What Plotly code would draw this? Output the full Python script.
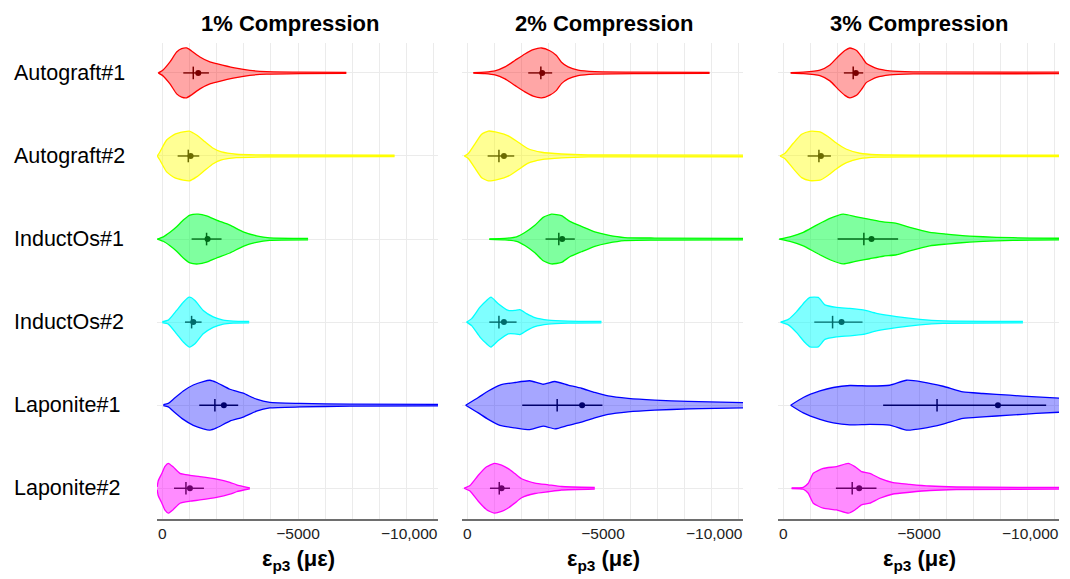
import plotly.graph_objects as go

W, H = 1070, 579
categories = ["Autograft#1", "Autograft#2", "InductOs#1", "InductOs#2", "Laponite#1", "Laponite#2"]
panel_titles = ["1% Compression", "2% Compression", "3% Compression"]
x_tickvals = [0, -5000]
x_ticktext = ["0", "\u22125000"]
x_end_value = -10000
x_end_text = "\u221210,000"

line_colors = ["#FF0000", "#FFFF00", "#00FF00", "#00FFFF", "#0000FF", "#FF00FF"]
fill_colors = ["rgba(255,0,0,0.35)", "rgba(255,255,0,0.42)", "rgba(0,255,64,0.5)",
               "rgba(0,255,255,0.5)", "rgba(0,0,255,0.35)", "rgba(255,0,255,0.45)"]
stat_colors = ["#7a0000", "#6b6b00", "#006b1a", "#006b6b", "#00006b", "#6b006b"]

# violin density profiles: strain (µε) and relative half-width (0..1)
strain_1pct = [
    [147, -37, -282, -527, -711, -895, -1078, -1385, -1752, -1998, -2610, -3223, -3836, -5061, -6777],
    [184, 86, -159, -466, -772, -993, -1262, -1569, -1875, -2181, -2733, -3836, -8554],
    [184, -37, -282, -527, -772, -1017, -1324, -1630, -1998, -2488, -2978, -3468, -3958, -5368],
    [0, -221, -527, -772, -993, -1201, -1507, -1875, -2243, -2610, -3199],
    [-37, -221, -404, -772, -1140, -1507, -1752, -1998, -2488, -2978, -3468, -3958, -5061, -6900, -10400],
    [190, 150, 25, -98, -221, -404, -650, -1017, -1385, -1998, -2488, -2733, -3223],
]
width_1pct = [
    [0, 0.13, 0.44, 0.84, 0.97, 1.0, 0.88, 0.64, 0.44, 0.37, 0.21, 0.10, 0.05, 0.03, 0.02],
    [0, 0.17, 0.64, 0.88, 0.97, 1.0, 0.84, 0.57, 0.31, 0.16, 0.07, 0.04, 0.03],
    [0, 0.09, 0.27, 0.49, 0.76, 0.96, 1.0, 0.93, 0.76, 0.56, 0.29, 0.13, 0.05, 0.03],
    [0.02, 0.08, 0.47, 0.80, 1.0, 0.87, 0.47, 0.21, 0.08, 0.04, 0.03],
    [0.02, 0.07, 0.24, 0.57, 0.81, 0.95, 1.0, 0.91, 0.64, 0.48, 0.24, 0.11, 0.07, 0.04, 0.03],
    [0.05, 0.3, 0.58, 0.88, 1.0, 0.85, 0.6, 0.52, 0.47, 0.37, 0.24, 0.14, 0.02],
]
strain_2pct = [
    [-221, -650, -1017, -1385, -1752, -2120, -2426, -2733, -3039, -3284, -3468, -3713, -4081, -4694, -6287, -8922],
    [110, -37, -282, -527, -772, -1140, -1507, -1875, -2243, -2733, -3468, -4449, -10400],
    [-809, -1385, -1814, -2120, -2488, -2794, -3100, -3468, -3775, -4203, -4694, -5184, -5797, -6900, -10400],
    [25, -159, -466, -711, -870, -1140, -1507, -1752, -1936, -2181, -2488, -2978, -3713, -4939],
    [61, -404, -772, -1201, -1752, -2304, -2794, -3223, -3713, -4203, -4694, -5184, -5919, -6900, -8125, -10400],
    [123, -98, -404, -711, -993, -1262, -1507, -1752, -1998, -2488, -2978, -3468, -4694],
]
width_2pct = [
    [0.01, 0.03, 0.08, 0.24, 0.5, 0.76, 0.93, 1.0, 0.89, 0.7, 0.43, 0.24, 0.11, 0.05, 0.03, 0.02],
    [0, 0.1, 0.49, 0.87, 1.0, 0.94, 0.81, 0.55, 0.29, 0.15, 0.08, 0.04, 0.03],
    [0.01, 0.03, 0.09, 0.26, 0.55, 0.87, 1.0, 0.94, 0.71, 0.51, 0.29, 0.16, 0.06, 0.04, 0.03],
    [0, 0.14, 0.6, 0.87, 1.0, 0.74, 0.47, 0.47, 0.5, 0.34, 0.18, 0.08, 0.04, 0.03],
    [0, 0.31, 0.57, 0.81, 0.91, 0.98, 0.84, 0.95, 0.81, 0.68, 0.51, 0.37, 0.27, 0.2, 0.15, 0.1],
    [0, 0.11, 0.52, 0.86, 1.0, 0.93, 0.79, 0.59, 0.38, 0.21, 0.14, 0.07, 0.03],
]
strain_3pct = [
    [-270, -735, -1348, -1716, -2022, -2267, -2451, -2696, -2880, -3064, -3431, -3922, -4779, -10400],
    [123, -61, -368, -674, -980, -1348, -1654, -1961, -2328, -2819, -3431, -10400],
    [147, -245, -735, -1225, -1716, -2206, -2696, -3186, -3676, -4167, -4657, -5392, -6005, -6863, -7843, -9069, -10400],
    [98, -184, -490, -797, -980, -1287, -1532, -1961, -2451, -2941, -3431, -4167, -5025, -5882, -8824],
    [-270, -735, -1348, -1838, -2451, -3186, -3922, -4534, -5147, -5882, -6618, -7353, -8333, -9314, -10400],
    [-306, -735, -919, -1103, -1471, -1961, -2390, -2635, -2880, -3186, -3554, -4044, -4657, -5392, -6373, -10400],
]
width_3pct = [
    [0.01, 0.03, 0.11, 0.32, 0.66, 0.9, 1.0, 0.9, 0.66, 0.38, 0.18, 0.08, 0.04, 0.03],
    [0, 0.11, 0.51, 0.87, 0.99, 0.97, 0.77, 0.51, 0.27, 0.11, 0.05, 0.03],
    [0, 0.09, 0.27, 0.56, 0.83, 1.0, 0.89, 0.79, 0.69, 0.63, 0.47, 0.27, 0.2, 0.12, 0.07, 0.04, 0.03],
    [0, 0.11, 0.42, 0.82, 0.99, 0.99, 0.69, 0.59, 0.55, 0.49, 0.35, 0.22, 0.11, 0.05, 0.03],
    [0, 0.31, 0.57, 0.71, 0.79, 0.77, 0.8, 1.0, 0.93, 0.76, 0.53, 0.47, 0.4, 0.33, 0.27],
    [0.01, 0.04, 0.2, 0.6, 0.8, 0.87, 1.0, 0.87, 0.67, 0.6, 0.4, 0.23, 0.16, 0.09, 0.05, 0.03],
]

# summary statistics (µε): first quartile, median, mean, third quartile
q1_1pct = [-772, -564, -1078, -833, -1360, -429]
median_1pct = [-1140, -956, -1630, -1078, -1936, -870]
mean_1pct = [-1324, -1042, -1667, -1140, -2267, -1017]
q3_1pct = [-1716, -1360, -2181, -1446, -2794, -1532]

q1_2pct = [-2243, -748, -2880, -809, -2022, -833]
median_2pct = [-2708, -1164, -3370, -1164, -3309, -1176]
mean_2pct = [-2757, -1348, -3493, -1348, -4228, -1262]
q3_2pct = [-3125, -1728, -3958, -1814, -4975, -1569]

q1_3pct = [-2230, -895, -1998, -1140, -3676, -1936]
median_3pct = [-2574, -1311, -2966, -1814, -5662, -2537]
mean_3pct = [-2672, -1385, -3248, -2145, -7904, -2794]
q3_3pct = [-2941, -1752, -4228, -2917, -9681, -3431]

panels = [
    (strain_1pct, width_1pct, q1_1pct, median_1pct, mean_1pct, q3_1pct),
    (strain_2pct, width_2pct, q1_2pct, median_2pct, mean_2pct, q3_2pct),
    (strain_3pct, width_3pct, q1_3pct, median_3pct, mean_3pct, q3_3pct),
]

HALF = 0.30
FONT = "Liberation Sans, Arial, sans-serif"

fig = go.Figure()
for p, (strains, widths, q1, med, mean, q3) in enumerate(panels):
    xa = "x" if p == 0 else f"x{p+1}"
    ya = "y" if p == 0 else f"y{p+1}"
    for i, cat in enumerate(categories):
        xs = strains[i]
        ws = widths[i]
        top = [i - HALF * w for w in ws]
        bot = [i + HALF * w for w in ws]
        # filled body (no outline)
        fig.add_trace(go.Scatter(
            x=list(xs) + list(reversed(xs)), y=top + list(reversed(bot)),
            mode="lines", fill="toself", fillcolor=fill_colors[i],
            line=dict(width=0, color=fill_colors[i]),
            xaxis=xa, yaxis=ya, showlegend=False, hoverinfo="skip"))
        # smooth outline, upper and lower halves
        for edge in (top, bot):
            fig.add_trace(go.Scatter(
                x=xs, y=edge, mode="lines",
                line=dict(color=line_colors[i], width=1.3, shape="spline", smoothing=0.5),
                xaxis=xa, yaxis=ya, showlegend=False, hoverinfo="skip"))
        fig.add_trace(go.Scatter(
            x=[q1[i], q3[i]], y=[i, i], mode="lines",
            line=dict(color=stat_colors[i], width=1.4),
            xaxis=xa, yaxis=ya, showlegend=False, hoverinfo="skip"))
        fig.add_trace(go.Scatter(
            x=[med[i]], y=[i], mode="markers",
            marker=dict(symbol="line-ns", size=9, line=dict(color=stat_colors[i], width=1.5)),
            xaxis=xa, yaxis=ya, showlegend=False, hoverinfo="skip"))
        fig.add_trace(go.Scatter(
            x=[mean[i]], y=[i], mode="markers",
            marker=dict(symbol="circle", size=6, color=stat_colors[i]),
            xaxis=xa, yaxis=ya, showlegend=False, hoverinfo="skip"))

starts_px = [156.9, 461.9, 777.9]
panel_w = 281
grid_c = "#ebebeb"
layout = dict(
    width=W, height=H, margin=dict(l=0, r=0, t=43, b=60),
    paper_bgcolor="white", plot_bgcolor="white", showlegend=False,
    font=dict(family=FONT, color="black"),
)
for p in range(3):
    kx = "xaxis" if p == 0 else f"xaxis{p+1}"
    ky = "yaxis" if p == 0 else f"yaxis{p+1}"
    dom = [starts_px[p] / W, (starts_px[p] + panel_w) / W]
    layout[kx] = dict(
        domain=dom, range=[200, -10150], tickvals=x_tickvals, ticktext=x_ticktext,
        showgrid=True, gridcolor=grid_c, gridwidth=1, zeroline=False,
        minor=dict(dtick=1000, tick0=0, showgrid=True, gridcolor=grid_c, gridwidth=1),
        showline=True, linecolor="#6e6e6e", linewidth=1.6, ticks="",
        tickfont=dict(size=15.5, color="#222222", family=FONT),
        anchor="y" if p == 0 else f"y{p+1}", automargin=False,
    )
    layout[ky] = dict(
        range=[5.37, -0.36], tickvals=list(range(6)), showticklabels=False,
        showgrid=True, gridcolor=grid_c, gridwidth=1, zeroline=False,
        showline=False, ticks="", automargin=False,
        anchor="x" if p == 0 else f"x{p+1}",
    )
fig.update_layout(**layout)

plot_h = H - 43 - 60
def ypaper(px_from_top):
    return (H - 60 - px_from_top) / plot_h

annotations = []
title_centers = [290, 604, 919]
for p in range(3):
    xr = "x" if p == 0 else f"x{p+1}"
    annotations.append(dict(
        text=f"<b>{panel_titles[p]}</b>", x=title_centers[p] / W, y=ypaper(24),
        xref="paper", yref="paper", xanchor="center", yanchor="middle",
        showarrow=False, font=dict(size=22, family=FONT, color="black")))
    annotations.append(dict(
        text="<b>\u03b5<sub>p3</sub> (\u03bc\u03b5)</b>", x=(starts_px[p] + 5.4 + 136) / W, y=ypaper(560),
        xref="paper", yref="paper", xanchor="center", yanchor="middle",
        showarrow=False, font=dict(size=22, family=FONT, color="black")))
    # last tick label, kept inside the panel like the reference
    annotations.append(dict(
        text=x_end_text, x=x_end_value, y=ypaper(533), xref=xr, yref="paper",
        xanchor="right", yanchor="middle", xshift=6,
        showarrow=False, font=dict(size=15.5, family=FONT, color="#222222")))
for i, cat in enumerate(categories):
    annotations.append(dict(
        text=cat, x=12 / W, y=i, xref="paper", yref="y", xanchor="left", yanchor="middle",
        showarrow=False, font=dict(size=21.5, family=FONT, color="black")))
fig.update_layout(annotations=annotations)

fig.write_html("out.html")
